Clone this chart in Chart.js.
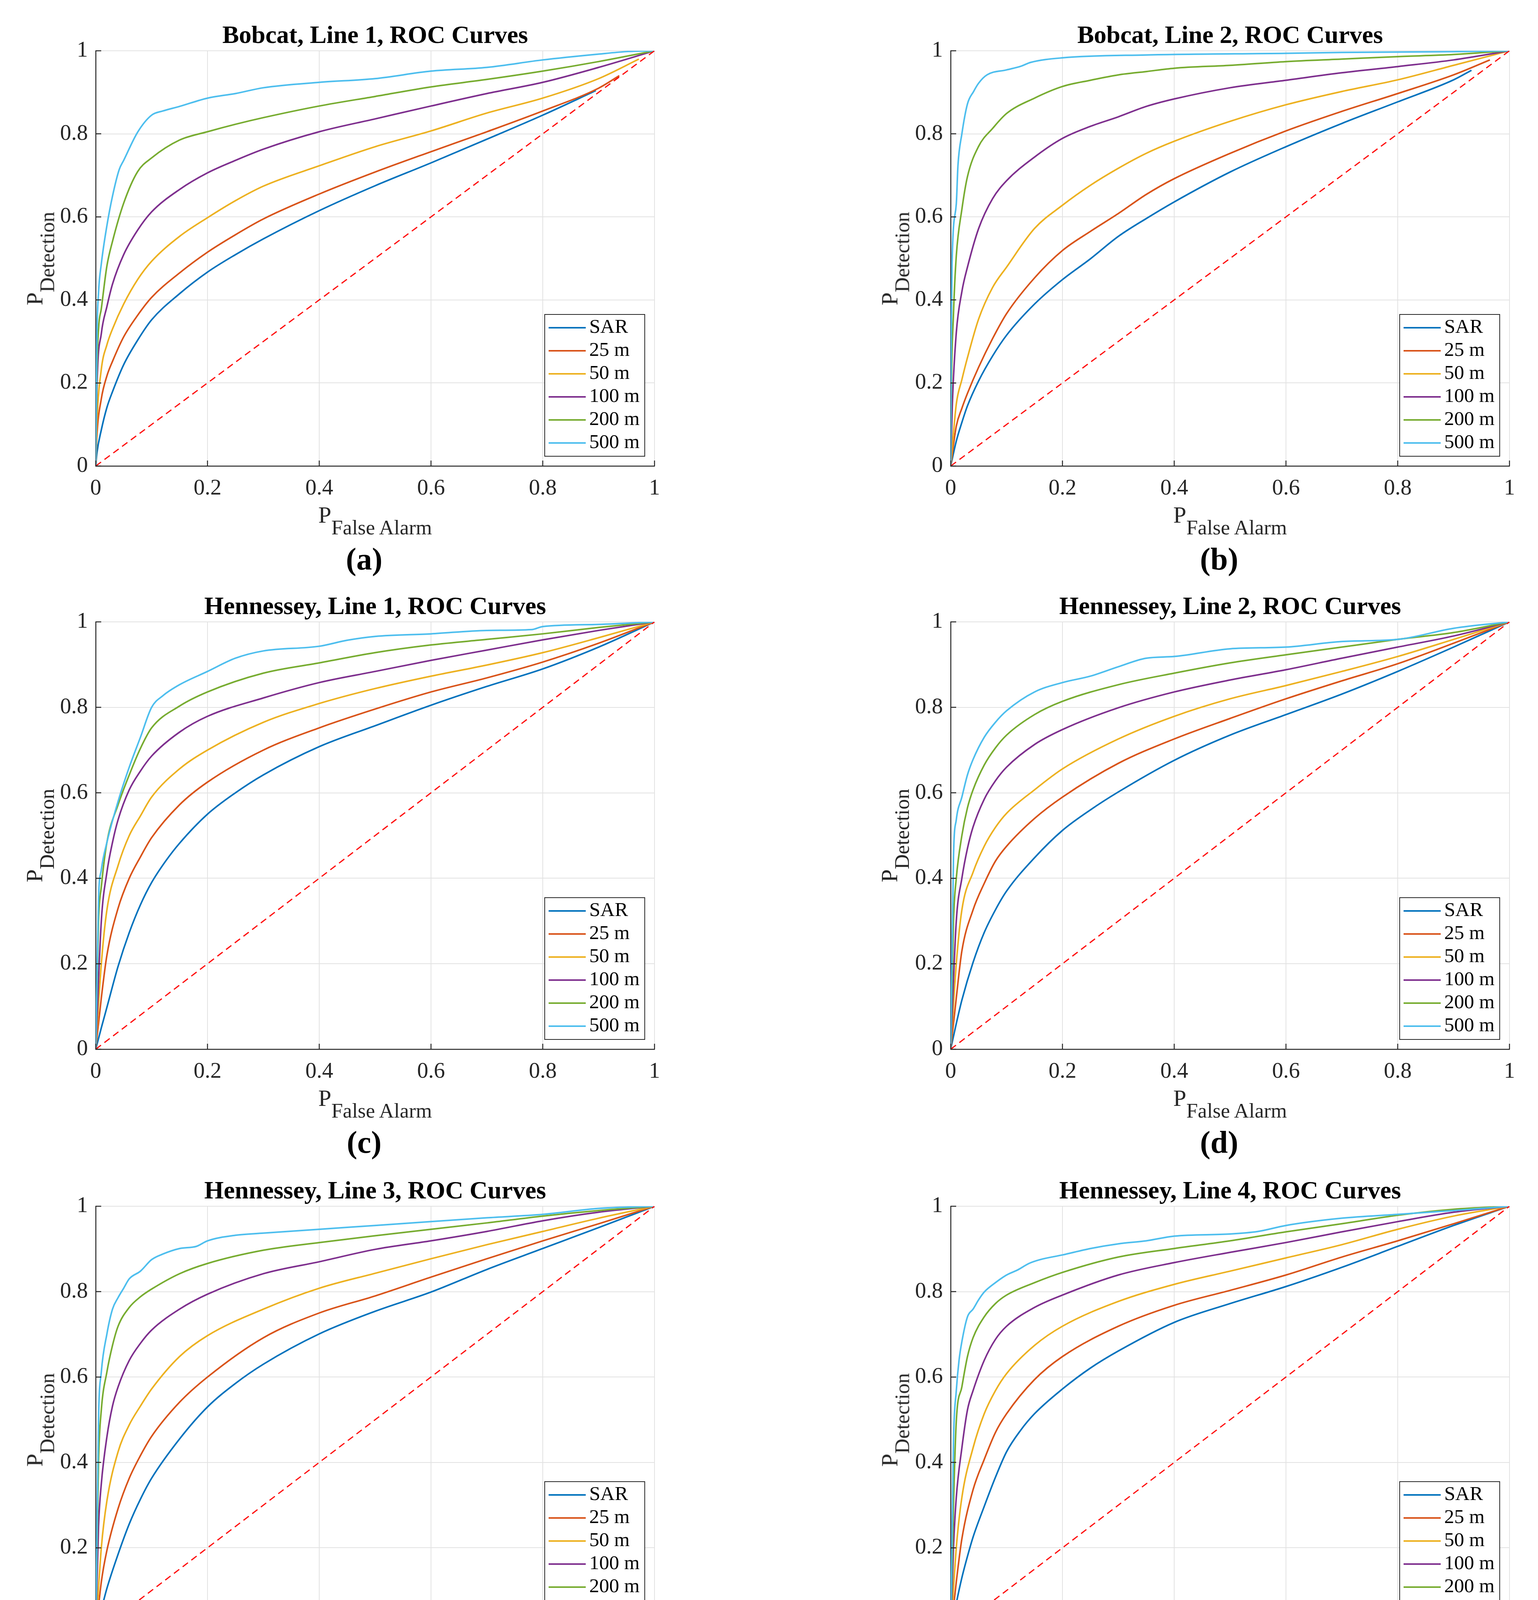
<!DOCTYPE html>
<html>
<head>
  <meta charset="UTF-8">
  <title>ROC Curves</title>
  <style>
    html, body {
      margin: 0;
      padding: 0;
      background: #fff;
    }
    body {
      width: 3936px;
      height: 4520px;
      position: relative;
      overflow: hidden;
      font-family: "Liberation Serif", "Times New Roman", serif;
      color: #000;
    }
    canvas {
      position: absolute;
    }
    .title {
      position: absolute;
      text-align: center;
      font-weight: bold;
      font-size: 64px;
      line-height: 64px;
      white-space: nowrap;
    }
    .xlab, .ylab {
      position: absolute;
      text-align: center;
      font-size: 60px;
      line-height: 60px;
      white-space: nowrap;
      color: #262626;
    }
    .xlab sub, .ylab sub {
      font-size: 53px;
      vertical-align: baseline;
      position: relative;
      top: 30px;
    }
    .ylab {
      transform: rotate(-90deg);
    }
    .cap {
      position: absolute;
      text-align: center;
      font-weight: bold;
      font-size: 80px;
      line-height: 80px;
    }
  </style>
</head>
<body>
  <script src="https://cdn.jsdelivr.net/npm/chart.js"></script>
  <script>
    const seriesLabels = ["SAR", "25 m", "50 m", "100 m", "200 m", "500 m"];
    const tickValues = [0, 0.2, 0.4, 0.6, 0.8, 1];
    const tickLabels = ["0", "0.2", "0.4", "0.6", "0.8", "1"];
    const chanceLine = [[0, 0], [1, 1]];
    const panelTitles = [
      "Bobcat, Line 1, ROC Curves",
      "Bobcat, Line 2, ROC Curves",
      "Hennessey, Line 1, ROC Curves",
      "Hennessey, Line 2, ROC Curves",
      "Hennessey, Line 3, ROC Curves",
      "Hennessey, Line 4, ROC Curves",
    ];
    const panelCaptions = ["(a)", "(b)", "(c)", "(d)", "(e)", "(f)"];

    // (a) Bobcat, Line 1  -- [P false alarm, P detection]
    const a_SAR = [[0,0],[0.002,0.03],[0.01,0.087],[0.02,0.141],[0.03,0.179],[0.05,0.244],[0.075,0.303],[0.1,0.352],[0.15,0.415],[0.2,0.467],[0.25,0.509],[0.3,0.547],[0.4,0.615],[0.5,0.675],[0.6,0.73],[0.7,0.787],[0.8,0.845],[0.895,0.904]];
    const a_25 = [[0,0],[0.002,0.07],[0.01,0.162],[0.02,0.217],[0.03,0.252],[0.05,0.311],[0.075,0.363],[0.1,0.406],[0.15,0.465],[0.2,0.515],[0.25,0.557],[0.3,0.595],[0.4,0.655],[0.5,0.708],[0.6,0.757],[0.7,0.805],[0.8,0.855],[0.9,0.91],[0.937,0.94]];
    const a_50 = [[0,0],[0.002,0.1],[0.01,0.233],[0.02,0.292],[0.03,0.33],[0.05,0.39],[0.075,0.449],[0.1,0.493],[0.15,0.553],[0.2,0.598],[0.25,0.639],[0.3,0.674],[0.4,0.723],[0.5,0.769],[0.6,0.807],[0.7,0.85],[0.8,0.886],[0.9,0.933],[0.972,0.98]];
    const a_100 = [[0,0],[0.002,0.18],[0.01,0.319],[0.02,0.384],[0.03,0.438],[0.05,0.509],[0.075,0.568],[0.1,0.612],[0.15,0.666],[0.2,0.706],[0.25,0.736],[0.3,0.763],[0.4,0.805],[0.5,0.836],[0.6,0.867],[0.7,0.897],[0.8,0.924],[0.9,0.96],[1,1]];
    const a_200 = [[0,0],[0.002,0.22],[0.005,0.33],[0.01,0.379],[0.02,0.482],[0.03,0.541],[0.05,0.633],[0.075,0.709],[0.1,0.742],[0.15,0.785],[0.2,0.805],[0.25,0.823],[0.3,0.839],[0.4,0.867],[0.5,0.89],[0.6,0.913],[0.7,0.931],[0.8,0.951],[0.9,0.974],[1,1]];
    const a_500 = [[0,0],[0.002,0.3],[0.005,0.417],[0.01,0.487],[0.02,0.579],[0.03,0.65],[0.042,0.714],[0.05,0.736],[0.075,0.804],[0.1,0.845],[0.12,0.855],[0.15,0.866],[0.2,0.886],[0.25,0.897],[0.3,0.911],[0.4,0.924],[0.5,0.933],[0.6,0.951],[0.7,0.96],[0.8,0.978],[0.9,0.992],[0.95,0.998],[1,1]];

    // (b) Bobcat, Line 2
    const b_SAR = [[0,0],[0.01,0.06],[0.02,0.105],[0.03,0.145],[0.05,0.205],[0.075,0.265],[0.1,0.315],[0.15,0.39],[0.2,0.449],[0.25,0.499],[0.3,0.553],[0.35,0.596],[0.4,0.636],[0.5,0.708],[0.6,0.769],[0.7,0.825],[0.8,0.877],[0.9,0.93],[0.932,0.953]];
    const b_25 = [[0,0],[0.01,0.096],[0.02,0.139],[0.03,0.175],[0.05,0.238],[0.075,0.307],[0.1,0.367],[0.15,0.453],[0.2,0.519],[0.25,0.565],[0.3,0.608],[0.35,0.654],[0.4,0.692],[0.5,0.753],[0.6,0.807],[0.7,0.854],[0.8,0.897],[0.9,0.942],[0.965,0.978]];
    const b_50 = [[0,0],[0.01,0.149],[0.02,0.208],[0.03,0.261],[0.05,0.354],[0.075,0.43],[0.1,0.479],[0.15,0.572],[0.2,0.628],[0.25,0.676],[0.3,0.717],[0.35,0.753],[0.4,0.782],[0.5,0.83],[0.6,0.87],[0.7,0.902],[0.8,0.93],[0.9,0.965],[1,1]];
    const b_100 = [[0,0],[0.003,0.15],[0.01,0.321],[0.02,0.42],[0.03,0.479],[0.05,0.572],[0.075,0.644],[0.1,0.687],[0.15,0.744],[0.2,0.789],[0.25,0.818],[0.3,0.841],[0.35,0.866],[0.4,0.884],[0.5,0.911],[0.6,0.929],[0.7,0.947],[0.8,0.962],[0.9,0.978],[1,1]];
    const b_200 = [[0,0],[0.001,0.17],[0.005,0.367],[0.01,0.506],[0.02,0.618],[0.03,0.697],[0.05,0.77],[0.075,0.813],[0.1,0.849],[0.15,0.886],[0.2,0.914],[0.25,0.929],[0.3,0.942],[0.35,0.95],[0.4,0.958],[0.5,0.965],[0.6,0.974],[0.7,0.98],[0.8,0.986],[0.9,0.991],[1,1]];
    const b_500 = [[0,0],[0.001,0.3],[0.0024,0.486],[0.01,0.631],[0.013,0.724],[0.02,0.8],[0.03,0.872],[0.041,0.902],[0.05,0.922],[0.065,0.942],[0.1,0.954],[0.126,0.963],[0.143,0.972],[0.2,0.983],[0.35,0.99],[0.6,0.994],[0.7,0.996],[0.9,0.998],[1,1]];

    // (c) Hennessey, Line 1
    const c_SAR = [[0,0],[0.01,0.05],[0.02,0.098],[0.04,0.194],[0.06,0.273],[0.08,0.338],[0.1,0.39],[0.125,0.44],[0.15,0.482],[0.2,0.55],[0.25,0.6],[0.3,0.642],[0.4,0.708],[0.5,0.757],[0.6,0.805],[0.7,0.849],[0.8,0.89],[0.9,0.941],[1,1]];
    const c_25 = [[0,0],[0.01,0.12],[0.02,0.22],[0.04,0.33],[0.06,0.4],[0.08,0.45],[0.1,0.495],[0.15,0.572],[0.2,0.625],[0.3,0.7],[0.4,0.752],[0.5,0.796],[0.6,0.836],[0.7,0.869],[0.8,0.906],[0.9,0.95],[1,1]];
    const c_50 = [[0,0],[0.01,0.2],[0.02,0.326],[0.04,0.43],[0.06,0.5],[0.08,0.546],[0.1,0.59],[0.15,0.656],[0.2,0.7],[0.3,0.765],[0.4,0.809],[0.5,0.844],[0.6,0.873],[0.7,0.899],[0.8,0.928],[0.9,0.963],[1,1]];
    const c_100 = [[0,0],[0.01,0.3],[0.02,0.414],[0.03,0.484],[0.04,0.537],[0.06,0.607],[0.08,0.651],[0.1,0.686],[0.15,0.742],[0.2,0.779],[0.3,0.822],[0.4,0.858],[0.5,0.884],[0.6,0.91],[0.7,0.934],[0.8,0.958],[0.9,0.98],[1,1]];
    const c_200 = [[0,0],[0.005,0.3],[0.01,0.38],[0.02,0.484],[0.04,0.572],[0.06,0.642],[0.08,0.704],[0.1,0.752],[0.15,0.803],[0.2,0.836],[0.3,0.88],[0.4,0.904],[0.5,0.928],[0.6,0.946],[0.7,0.959],[0.8,0.972],[0.9,0.987],[1,1]];
    const c_500 = [[0,0],[0.005,0.35],[0.01,0.42],[0.02,0.484],[0.04,0.58],[0.06,0.66],[0.08,0.73],[0.1,0.8],[0.12,0.827],[0.15,0.853],[0.2,0.884],[0.25,0.915],[0.3,0.932],[0.4,0.943],[0.45,0.957],[0.5,0.966],[0.6,0.972],[0.7,0.98],[0.78,0.982],[0.8,0.989],[0.9,0.994],[1,1]];

    // (d) Hennessey, Line 2
    const d_SAR = [[0,0],[0.01,0.06],[0.02,0.115],[0.04,0.203],[0.06,0.273],[0.08,0.326],[0.1,0.37],[0.15,0.448],[0.2,0.512],[0.25,0.56],[0.3,0.602],[0.4,0.676],[0.5,0.735],[0.6,0.783],[0.7,0.831],[0.8,0.884],[0.9,0.941],[1,1]];
    const d_25 = [[0,0],[0.01,0.12],[0.02,0.23],[0.04,0.326],[0.06,0.388],[0.08,0.44],[0.1,0.475],[0.15,0.54],[0.2,0.59],[0.3,0.669],[0.4,0.726],[0.5,0.774],[0.6,0.82],[0.7,0.862],[0.8,0.902],[0.9,0.95],[1,1]];
    const d_50 = [[0,0],[0.01,0.2],[0.02,0.326],[0.04,0.414],[0.06,0.475],[0.08,0.519],[0.1,0.552],[0.15,0.607],[0.2,0.656],[0.3,0.726],[0.4,0.779],[0.5,0.82],[0.6,0.851],[0.7,0.884],[0.8,0.919],[0.9,0.959],[1,1]];
    const d_100 = [[0,0],[0.01,0.3],[0.02,0.4],[0.03,0.47],[0.04,0.52],[0.06,0.585],[0.08,0.628],[0.1,0.66],[0.15,0.713],[0.2,0.748],[0.3,0.799],[0.4,0.836],[0.5,0.864],[0.6,0.888],[0.7,0.915],[0.8,0.941],[0.9,0.967],[1,1]];
    const d_200 = [[0,0],[0.005,0.3],[0.01,0.4],[0.02,0.5],[0.03,0.565],[0.04,0.607],[0.06,0.665],[0.08,0.705],[0.1,0.735],[0.15,0.783],[0.2,0.814],[0.3,0.853],[0.4,0.88],[0.5,0.904],[0.6,0.923],[0.7,0.941],[0.8,0.959],[0.9,0.975],[1,1]];
    const d_500 = [[0,0],[0.005,0.45],[0.01,0.537],[0.02,0.59],[0.03,0.642],[0.04,0.678],[0.06,0.73],[0.08,0.765],[0.1,0.792],[0.15,0.836],[0.2,0.858],[0.25,0.873],[0.3,0.895],[0.35,0.915],[0.4,0.919],[0.5,0.937],[0.6,0.941],[0.7,0.954],[0.8,0.959],[0.9,0.985],[1,1]];

    // (e) Hennessey, Line 3
    const e_SAR = [[0,0],[0.01,0.055],[0.02,0.105],[0.04,0.185],[0.06,0.256],[0.08,0.314],[0.1,0.363],[0.15,0.455],[0.2,0.53],[0.25,0.585],[0.3,0.63],[0.4,0.701],[0.5,0.754],[0.6,0.799],[0.7,0.852],[0.8,0.901],[0.9,0.95],[1,1]];
    const e_25 = [[0,0],[0.01,0.12],[0.02,0.194],[0.04,0.292],[0.06,0.363],[0.08,0.416],[0.1,0.461],[0.15,0.541],[0.2,0.6],[0.3,0.692],[0.4,0.75],[0.5,0.79],[0.6,0.834],[0.7,0.877],[0.8,0.919],[0.9,0.959],[1,1]];
    const e_50 = [[0,0],[0.01,0.2],[0.02,0.31],[0.04,0.425],[0.06,0.488],[0.08,0.532],[0.1,0.572],[0.15,0.648],[0.2,0.697],[0.3,0.759],[0.4,0.808],[0.5,0.843],[0.6,0.877],[0.7,0.91],[0.8,0.941],[0.9,0.972],[1,1]];
    const e_100 = [[0,0],[0.005,0.25],[0.01,0.35],[0.02,0.46],[0.03,0.532],[0.04,0.577],[0.06,0.639],[0.08,0.679],[0.1,0.71],[0.15,0.759],[0.2,0.794],[0.3,0.842],[0.4,0.87],[0.5,0.899],[0.6,0.919],[0.7,0.941],[0.8,0.966],[0.9,0.986],[1,1]];
    const e_200 = [[0,0],[0.005,0.4],[0.01,0.523],[0.02,0.612],[0.03,0.674],[0.04,0.719],[0.06,0.763],[0.08,0.788],[0.1,0.806],[0.15,0.842],[0.2,0.866],[0.3,0.897],[0.4,0.915],[0.5,0.931],[0.6,0.946],[0.7,0.961],[0.8,0.977],[0.9,0.99],[1,1]];
    const e_500 = [[0,0],[0.005,0.5],[0.01,0.612],[0.02,0.701],[0.03,0.759],[0.04,0.786],[0.05,0.808],[0.06,0.83],[0.08,0.848],[0.1,0.875],[0.12,0.888],[0.15,0.901],[0.18,0.906],[0.2,0.919],[0.25,0.932],[0.3,0.937],[0.4,0.946],[0.5,0.955],[0.6,0.964],[0.7,0.973],[0.8,0.981],[0.9,0.995],[1,1]];

    // (f) Hennessey, Line 4
    const f_SAR = [[0,0],[0.01,0.07],[0.02,0.13],[0.03,0.18],[0.04,0.225],[0.06,0.297],[0.08,0.365],[0.1,0.425],[0.125,0.475],[0.15,0.514],[0.2,0.572],[0.25,0.621],[0.3,0.661],[0.4,0.728],[0.5,0.772],[0.6,0.812],[0.7,0.857],[0.8,0.906],[0.9,0.955],[1,1]];
    const f_25 = [[0,0],[0.01,0.12],[0.02,0.221],[0.04,0.336],[0.06,0.407],[0.08,0.47],[0.1,0.514],[0.15,0.594],[0.2,0.648],[0.3,0.719],[0.4,0.768],[0.5,0.803],[0.6,0.839],[0.7,0.881],[0.8,0.919],[0.9,0.959],[1,1]];
    const f_50 = [[0,0],[0.01,0.2],[0.02,0.318],[0.04,0.434],[0.06,0.514],[0.08,0.568],[0.1,0.608],[0.15,0.674],[0.2,0.719],[0.3,0.777],[0.4,0.817],[0.5,0.848],[0.6,0.879],[0.7,0.91],[0.8,0.946],[0.9,0.977],[1,1]];
    const f_100 = [[0,0],[0.005,0.2],[0.01,0.318],[0.02,0.434],[0.03,0.523],[0.04,0.568],[0.06,0.639],[0.08,0.688],[0.1,0.719],[0.15,0.763],[0.2,0.792],[0.3,0.839],[0.4,0.868],[0.5,0.892],[0.6,0.915],[0.7,0.94],[0.8,0.964],[0.9,0.986],[1,1]];
    const f_200 = [[0,0],[0.005,0.3],[0.01,0.496],[0.02,0.577],[0.03,0.648],[0.04,0.692],[0.06,0.741],[0.08,0.772],[0.1,0.792],[0.15,0.821],[0.2,0.845],[0.3,0.881],[0.4,0.901],[0.5,0.919],[0.6,0.94],[0.7,0.959],[0.8,0.979],[0.9,0.993],[1,1]];
    const f_500 = [[0,0],[0.005,0.45],[0.01,0.568],[0.015,0.64],[0.02,0.683],[0.03,0.741],[0.04,0.759],[0.05,0.781],[0.06,0.799],[0.08,0.821],[0.1,0.839],[0.12,0.851],[0.14,0.866],[0.16,0.875],[0.2,0.886],[0.25,0.901],[0.3,0.912],[0.35,0.919],[0.4,0.93],[0.5,0.935],[0.55,0.941],[0.6,0.955],[0.7,0.972],[0.8,0.981],[0.9,0.99],[1,1]];

    const panelSeries = [
      [a_SAR, a_25, a_50, a_100, a_200, a_500],
      [b_SAR, b_25, b_50, b_100, b_200, b_500],
      [c_SAR, c_25, c_50, c_100, c_200, c_500],
      [d_SAR, d_25, d_50, d_100, d_200, d_500],
      [e_SAR, e_25, e_50, e_100, e_200, e_500],
      [f_SAR, f_25, f_50, f_100, f_200, f_500],
    ];

    // matlab default line colours
    const seriesColors = ["#0072BD", "#D95319", "#EDB120", "#7E2F8E", "#77AC30", "#4DBEEE"];

    // plot area of every panel on the page
    const plotBoxes = [
      { left: 245, top: 130, width: 1430, height: 1063 },
      { left: 2433, top: 130, width: 1430, height: 1063 },
      { left: 245, top: 1592, width: 1430, height: 1094 },
      { left: 2433, top: 1592, width: 1430, height: 1094 },
      { left: 245, top: 3088, width: 1430, height: 1093 },
      { left: 2433, top: 3088, width: 1430, height: 1093 },
    ];

    const Y_AXIS_W = 160;
    const X_AXIS_H = 100;
    const PAD_TOP = 70; // must be larger than the y tick label overhang + padding
    const PAD_RIGHT = 60;

    // inward tick marks and the boxed legend, drawn like matlab does
    const matlabBits = {
      id: "matlabBits",
      afterDatasetsDraw(chart) {
        const ctx = chart.ctx;
        const a = chart.chartArea;
        const xs = chart.scales.x;
        const ys = chart.scales.y;
        ctx.save();
        ctx.strokeStyle = "#262626";
        ctx.lineWidth = 2.5;
        ctx.beginPath();
        tickValues.forEach((v) => {
          const px = xs.getPixelForValue(v);
          ctx.moveTo(px, a.bottom);
          ctx.lineTo(px, a.bottom - 14);
          const py = ys.getPixelForValue(v);
          ctx.moveTo(a.left, py);
          ctx.lineTo(a.left + 14, py);
        });
        ctx.stroke();

        const items = chart.data.datasets.filter((d) => d.inLegend);
        const w = 256;
        const rowH = 59;
        const h = 68 + rowH * (items.length - 1);
        const bx = a.right - 25 - w;
        const by = a.bottom - 25 - h;
        ctx.fillStyle = "#fff";
        ctx.fillRect(bx, by, w, h);
        ctx.strokeStyle = "#262626";
        ctx.lineWidth = 2;
        ctx.strokeRect(bx, by, w, h);
        ctx.font = '51px "Liberation Serif"';
        ctx.textBaseline = "middle";
        ctx.textAlign = "left";
        items.forEach((d, i) => {
          const cy = by + 34 + i * rowH;
          ctx.strokeStyle = d.borderColor;
          ctx.lineWidth = 4;
          ctx.beginPath();
          ctx.moveTo(bx + 10, cy);
          ctx.lineTo(bx + 105, cy);
          ctx.stroke();
          ctx.fillStyle = "#000";
          ctx.fillText(d.label, bx + 114, cy);
        });
        ctx.restore();
      },
    };

    function addText(cls, html, left, top, width) {
      const el = document.createElement("div");
      el.className = cls;
      el.innerHTML = html;
      el.style.left = left + "px";
      el.style.top = top + "px";
      el.style.width = width + "px";
      document.body.appendChild(el);
      return el;
    }

    function axisOptions(isX) {
      return {
        type: "linear",
        min: 0,
        max: 1,
        afterBuildTicks: (s) => {
          s.ticks = tickValues.map((v) => ({ value: v }));
        },
        afterFit: (s) => {
          if (isX) s.height = X_AXIS_H;
          else s.width = Y_AXIS_W;
        },
        ticks: {
          callback: (v, i) => tickLabels[i],
          font: { family: '"Liberation Serif"', size: 57 },
          color: "#262626",
          padding: isX ? 24 : 20,
          maxRotation: 0,
          autoSkip: false,
        },
        grid: { color: "#e2e2e2", lineWidth: 2, drawTicks: false },
        border: { display: true, color: "#262626", width: 2.5 },
      };
    }

    function drawPanel(p) {
      const box = plotBoxes[p];
      const bottom = box.top + box.height;
      const cx = box.left + box.width / 2;

      const canvas = document.createElement("canvas");
      const cw = Y_AXIS_W + box.width + PAD_RIGHT;
      const ch = PAD_TOP + box.height + X_AXIS_H;
      canvas.width = cw;
      canvas.height = ch;
      canvas.style.width = cw + "px";
      canvas.style.height = ch + "px";
      canvas.style.left = box.left - Y_AXIS_W + "px";
      canvas.style.top = box.top - PAD_TOP + "px";
      document.body.appendChild(canvas);

      const datasets = panelSeries[p].map((data, i) => ({
        label: seriesLabels[i],
        data: data,
        borderColor: seriesColors[i],
        borderWidth: 4,
        pointRadius: 0,
        cubicInterpolationMode: "monotone",
        fill: false,
        order: 6 - i,
        inLegend: true,
      }));
      datasets.push({
        label: "chance",
        data: chanceLine,
        borderColor: "#FF0000",
        borderWidth: 3,
        borderDash: [17, 11],
        pointRadius: 0,
        fill: false,
        order: 0,
        inLegend: false,
      });

      new Chart(canvas.getContext("2d"), {
        type: "line",
        data: { datasets: datasets },
        options: {
          responsive: false,
          devicePixelRatio: 1,
          animation: false,
          events: [],
          layout: { padding: { top: PAD_TOP, right: PAD_RIGHT, left: 0, bottom: 0 } },
          plugins: { legend: { display: false }, tooltip: { enabled: false } },
          scales: { x: axisOptions(true), y: axisOptions(false) },
        },
        plugins: [matlabBits],
      });

      addText("title", panelTitles[p], box.left, box.top - 73, box.width);
      addText("xlab", "P<sub>False Alarm</sub>", box.left, bottom + 95, box.width);
      const yl = addText("ylab", "P<sub>Detection</sub>", box.left - 157 - box.height / 2,
        box.top + box.height / 2 - 30, box.height);
      yl.style.height = "60px";
      addText("cap", panelCaptions[p], cx - 28 - 200, bottom + 198, 400);
    }

    for (let p = 0; p < plotBoxes.length; p++) {
      drawPanel(p);
    }
  </script>
</body>
</html>
